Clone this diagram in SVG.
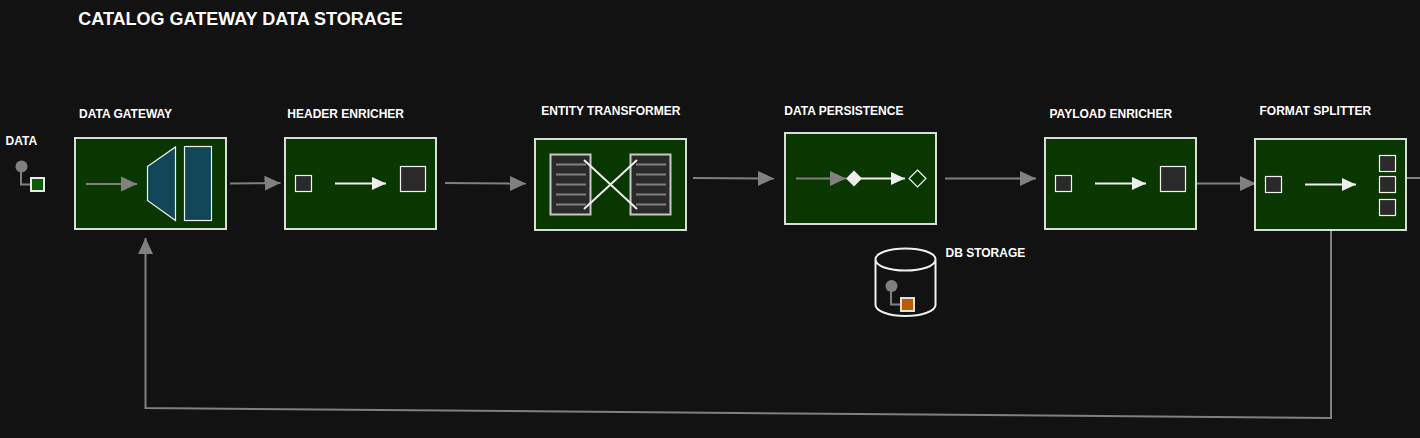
<svg xmlns="http://www.w3.org/2000/svg" width="1420" height="438" viewBox="0 0 1420 438">
<style>
text{font-family:"Liberation Sans",Arial,sans-serif;font-weight:700;fill:#fff;font-size:12px}
.title{font-size:18px}
.box{fill:#0a3600;stroke:#dcdcdc;stroke-width:2}
.c{fill:none;stroke:#808080;stroke-width:2}
.w{fill:none;stroke:#eeeeee;stroke-width:2}
.sq{fill:#2a2a2a;stroke:#f4f4f4;stroke-width:1.2}
.doc{fill:#2a2a2a;stroke:#c8c8c8;stroke-width:2}
.ln{stroke:#808080;stroke-width:2;fill:none}
.blue{fill:#114558;stroke:#f0f0f0;stroke-width:1.2}
</style>
<defs>
<marker id="g" markerUnits="userSpaceOnUse" markerWidth="16" markerHeight="16" refX="16" refY="8" orient="auto"><path d="M0 0.500L16 8L0 15.500Z" fill="#808080"/></marker>
<marker id="wh" markerUnits="userSpaceOnUse" markerWidth="14" markerHeight="14" refX="14" refY="7" orient="auto"><path d="M0 0.500L14 7L0 13.500Z" fill="#eeeeee"/></marker>
</defs>
<rect width="1420" height="438" fill="#121212"/>
<text class="title" x="78.300" y="25">CATALOG GATEWAY DATA STORAGE</text>
<g id="connectors">
<path class="c" marker-end="url(#g)" d="M230 183.500L280.500 183"/>
<path class="c" marker-end="url(#g)" d="M445 183L526 183.500"/>
<path class="c" marker-end="url(#g)" d="M693 178L774 178.500"/>
<path class="c" marker-end="url(#g)" d="M945 178.500L1036 178.500"/>
<path class="c" marker-end="url(#g)" d="M1196 183.500L1256 183.500"/>
<path class="c" d="M1406 178H1420"/>
<path class="c" marker-end="url(#g)" d="M1331 230V418L145.500 408V238"/>
</g>
<g id="data"><text x="5.500" y="145">DATA</text>
<path class="ln" d="M21 170V184.500H32"/><circle cx="21.500" cy="166.500" r="6" fill="#808080"/>
<rect x="31" y="178" width="13" height="13" fill="#0a5a00" stroke="#eaeaea" stroke-width="2"/></g>
<g id="data-gateway"><text x="79" y="118">DATA GATEWAY</text>
<rect class="box" x="75" y="138" width="151" height="91"/>
<path class="c" marker-end="url(#g)" d="M86 184H137"/>
<path class="blue" d="M147.500 166.500L175.500 147V220.500L147.500 200.500Z"/>
<rect class="blue" x="184.500" y="146.500" width="27" height="74"/></g>
<g id="header-enricher"><text x="287.300" y="118">HEADER ENRICHER</text>
<rect class="box" x="285" y="138" width="151" height="91"/>
<rect class="sq" x="295.500" y="175.500" width="16" height="16"/>
<path class="w" marker-end="url(#wh)" d="M335 183.500H386"/>
<rect class="sq" x="400.500" y="166.500" width="25" height="25"/></g>
<g id="entity-transformer"><text x="541.300" y="115">ENTITY TRANSFORMER</text>
<rect class="box" x="535" y="139" width="151" height="91"/>
<rect class="doc" x="550.500" y="154.500" width="40" height="60"/>
<rect class="doc" x="630.500" y="154.500" width="40" height="60"/>
<path class="ln" d="M556 164.500H586M556 174.500H586M556 184.500H586M556 194.500H586M556 204.500H586M636 164.500H666M636 174.500H666M636 184.500H666M636 194.500H666M636 204.500H666"/>
<path class="w" d="M584 160L637 209M584 209L637 160"/></g>
<g id="data-persistence"><text x="784.300" y="115">DATA PERSISTENCE</text>
<rect class="box" x="785" y="133" width="151" height="91"/>
<path class="c" marker-end="url(#g)" d="M796 178.500H846"/>
<path class="w" marker-end="url(#wh)" d="M860 178.500H905"/>
<path d="M854 170.500L862 178.500L854 186.500L846 178.500Z" fill="#eeeeee"/>
<path d="M917.500 170L926 178.500L917.500 187L909 178.500Z" fill="none" stroke="#f4f4f4" stroke-width="1.2"/></g>
<g id="db-storage"><text x="945.500" y="257">DB STORAGE</text>
<path fill="none" stroke="#f0f0f0" stroke-width="2" d="M875.500 259.500C875.500 253 889 248.500 905.500 248.500C922 248.500 935.500 253 935.500 259.500V305C935.500 311 922 316 905.500 316C889 316 875.500 311 875.500 305ZM875.500 259.500C875.500 266 889 270.500 905.500 270.500C922 270.500 935.500 266 935.500 259.500"/>
<path class="ln" d="M891 286V304.500H902"/><circle cx="891.500" cy="286" r="6" fill="#808080"/>
<rect x="901" y="298" width="13" height="13" fill="#b85c00" stroke="#e0e0e0" stroke-width="2"/></g>
<g id="payload-enricher"><text x="1049.500" y="118">PAYLOAD ENRICHER</text>
<rect class="box" x="1045" y="138" width="151" height="91"/>
<rect class="sq" x="1055.500" y="175.500" width="16" height="16"/>
<path class="w" marker-end="url(#wh)" d="M1095 183.500H1146"/>
<rect class="sq" x="1160.500" y="166.500" width="25" height="25"/></g>
<g id="format-splitter"><text x="1259.500" y="115">FORMAT SPLITTER</text>
<rect class="box" x="1255" y="139" width="151" height="91"/>
<rect class="sq" x="1265.500" y="176.500" width="16" height="16"/>
<path class="w" marker-end="url(#wh)" d="M1305 184.500H1356"/>
<rect class="sq" x="1379.500" y="155.500" width="16" height="16"/>
<rect class="sq" x="1379.500" y="176.500" width="16" height="16"/>
<rect class="sq" x="1379.500" y="199.500" width="16" height="16"/></g>
</svg>
